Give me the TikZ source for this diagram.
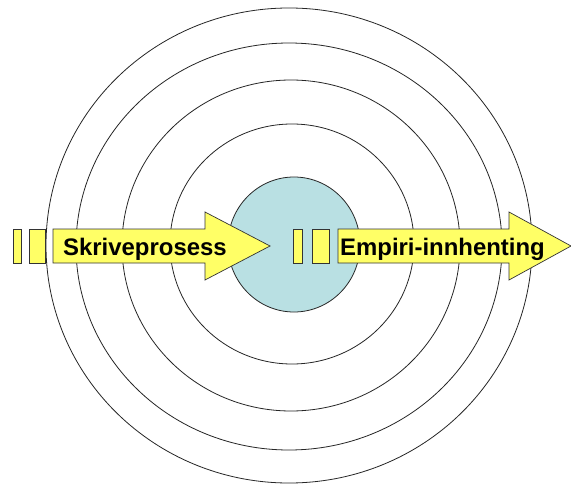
\documentclass[tikz,border=0pt]{standalone}
\usepackage{fontspec}
\setmainfont{Liberation Sans}
\definecolor{arrowyellow}{RGB}{255,255,102}
\definecolor{corefill}{RGB}{185,224,227}
\begin{document}
\begin{tikzpicture}[x=1bp,y=-1bp,
  ring/.style={draw=black!85, line width=0.8bp},
  arrowshape/.style={draw=black!80, line width=0.7bp, fill=arrowyellow, line join=miter},
  arrowlabel/.style={font=\bfseries\fontsize{24}{28}\selectfont, anchor=base west, inner sep=0pt}]
\useasboundingbox (0,0) rectangle (571,484);
\fill[white] (0,0) rectangle (571,484);

% concentric rings
\draw[ring] (289,245.5) ellipse [x radius=243, y radius=237.5];
\draw[ring] (289,246.5) ellipse [x radius=213, y radius=203.5];
\draw[ring] (291,245.5) ellipse [x radius=169, y radius=165.5];
\draw[ring] (292,244) ellipse [x radius=122, y radius=120];
\draw[ring, fill=corefill] (294,244.5) ellipse [x radius=66, y radius=67.5];

% left striped arrow
\draw[arrowshape] (13,229) rectangle (21,263);
\draw[arrowshape] (29,229) rectangle (45,263);
\draw[arrowshape] (53,229) -- (205,229) -- (205,212) -- (270,246) -- (205,280)
  -- (205,263) -- (53,263) -- cycle;

% right striped arrow
\draw[arrowshape] (293,229) rectangle (302,263);
\draw[arrowshape] (312,229) rectangle (329,263);
\draw[arrowshape] (338,229) -- (509,229) -- (509,212) -- (571,246) -- (509,280)
  -- (509,263) -- (338,263) -- cycle;

% labels
\node[arrowlabel] (skrive) at (63,255) {Skriveprosess};
\node[arrowlabel] (empiri) at (340,255) {Empiri-innhenting};
\end{tikzpicture}
\end{document}
